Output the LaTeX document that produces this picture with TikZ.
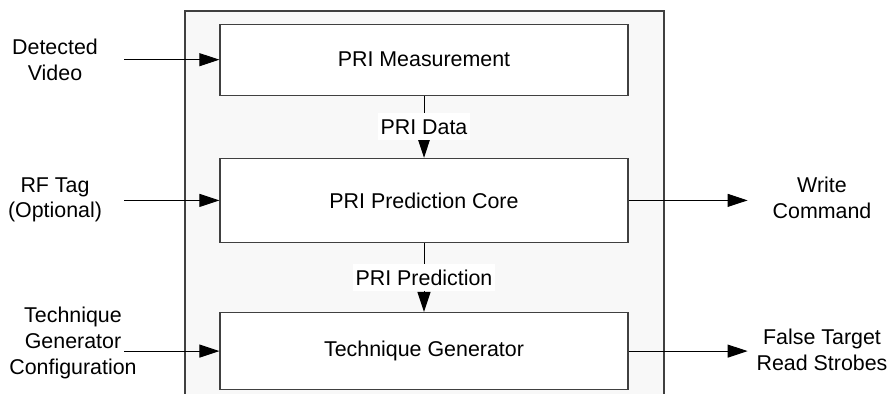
\documentclass[tikz,border=0pt]{standalone}
\usepackage{fontspec}
\setmainfont{Liberation Sans}
\usetikzlibrary{arrows.meta}
\usetikzlibrary{positioning}
\definecolor{rahmen}{HTML}{404040}
\definecolor{grund}{HTML}{F8F8F8}
\tikzset{every picture/.style={>={Triangle[length=10pt,width=6.5pt]}}}
\tikzstyle{block}    = [draw=rahmen, line width=0.6pt, fill=white, rectangle, minimum width=204pt, inner sep=0pt]
\tikzstyle{to}       = [->, line width=0.5pt]
\tikzstyle{signal}   = [align=center]
\tikzstyle{marke}    = [fill=white, inner xsep=1.5pt, inner ysep=3pt]
\tikzstyle{terminal} = [coordinate]

\begin{document}
\begin{tikzpicture}[x=0.5pt, y=-0.5pt, font=\fontsize{10.7}{12.8}\selectfont]
	\useasboundingbox (0,0) rectangle (888,394);
	\clip (0,0) rectangle (888,394);
	\filldraw[draw=rahmen, fill=grund, line width=0.6pt] (185,11) rectangle (664,420);

	\node[block, minimum height=35.5pt]	(Messung)		at (424,59.7)			{PRI Measurement};
	\node[block, minimum height=42pt]		(Kern)			[below=31pt of Messung]	{PRI Prediction Core};
	\node[block, minimum height=38.5pt]	(Generator)	[below=34.5pt of Kern]	{Technique Generator};
	\node[terminal]	(video)		[left=47.5pt of Messung]		{};
	\node[terminal]	(rftag)		[left=47.5pt of Kern]			{};
	\node[terminal]	(konfig)	[left=47.5pt of Generator]	{};
	\node[terminal]	(write)		[right=59.5pt of Kern]			{};
	\node[terminal]	(strobe)	[right=59.5pt of Generator]	{};

	\node[signal]	(tVideo)	at (55,60)		{Detected\\Video};
	\node[signal]	(tRF)			at (55,200)		{RF Tag\\(Optional)};
	\node[signal]	(tKonfig)	at (73,343)		{Technique\\Generator\\Configuration};
	\node[signal]	(tWrite)	at (822,198)	{Write\\Command};
	\node[signal]	(tStrobe)	at (822,350)	{False Target\\Read Strobes};

	\draw[to] (video) -- (Messung);
	\draw[to] (rftag) -- (Kern);
	\draw[to] (konfig) -- (Generator);
	\draw[to] (Kern) -- (write);
	\draw[to] (Generator) -- (strobe);
	\draw[to] (Messung) -- (Kern) node[midway, marke] {PRI Data};
	\draw[to] (Kern) -- (Generator) node[midway, marke] {PRI Prediction};
\end{tikzpicture}
\end{document}
